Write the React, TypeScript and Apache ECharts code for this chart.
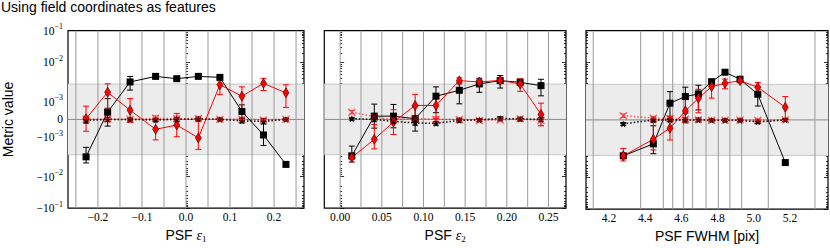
import React, { useEffect, useRef } from 'react';
import * as echarts from 'echarts';

// ---------- data ----------
const titleText = 'Using field coordinates as features';
const yAxisName = 'Metric value';
const bandLimit = 2.8e-3;
const yTickVals = [-0.1, -0.01, -0.001, 0, 0.001, 0.01, 0.1];

// Panel 1 : PSF e1
const e1X = [-0.227, -0.178, -0.127, -0.069, -0.021, 0.028, 0.077, 0.127, 0.176, 0.227];
const e1Sq = [-3.17e-3, 4.1e-4, 3.17e-3, 4.39e-3, 3.84e-3, 4.39e-3, 4.14e-3, 4.5e-4, -8.8e-4, -4.93e-3];
const e1SqErr = [1.35e-3, 7.9e-4, 1.2e-3, 2e-4, 2e-4, 2e-4, 2e-4, 3.7e-4, 7.5e-4, 2e-4];
const e1Dm = [3.9e-5, 1.74e-3, 5.2e-4, -5.6e-4, -3.2e-4, -1.05e-3, 2.71e-3, 1.38e-3, 2.92e-3, 1.68e-3];
const e1DmErr = [7.1e-4, 1.1e-3, 6.8e-4, 6.2e-4, 6.6e-4, 1.0e-3, 1.2e-3, 1.0e-3, 1.0e-3, 1.0e-3];
const e1St = [-5.6e-5, 0, 0, -3e-5, 0, 2e-5, 0, -8e-5, -1.1e-4, 0];
const e1StErr = [1.5e-4, 1.2e-4, 8e-5, 1e-4, 1e-4, 1e-4, 8e-5, 1.2e-4, 1.5e-4, 8e-5];
const e1Xm = [2e-5, 2e-5, 1e-5, 6e-5, 4e-5, 5e-5, 1e-5, 1e-5, -3e-5, 1e-5];
const e1XmErr = [1.2e-4, 1e-4, 8e-5, 1.5e-4, 1.5e-4, 1.2e-4, 8e-5, 8e-5, 1e-4, 8e-5];
const e1Edges = [-0.25, -0.2, -0.15, -0.1, -0.05, 0, 0.05, 0.1, 0.15, 0.2, 0.25];
const e1Ticks = [-0.2, -0.1, 0, 0.1, 0.2];
const e1Range = [-0.268, 0.268];

// Panel 2 : PSF e2
const e2X = [0.014, 0.041, 0.064, 0.09, 0.115, 0.143, 0.167, 0.192, 0.216, 0.241];
const e2Sq = [-2.99e-3, 1.85e-4, 1.85e-4, 3.9e-5, 1.38e-3, 1.95e-3, 2.83e-3, 3.42e-3, 3.1e-3, 2.56e-3];
const e2SqErr = [1.3e-3, 6.8e-4, 6.6e-4, 7e-4, 1.0e-3, 1.07e-3, 1.1e-3, 1.2e-3, 3e-4, 1.15e-3];
const e2Dm = [-3.28e-3, -1.14e-3, -1.5e-4, 7.9e-4, 7.9e-4, 3.42e-3, 3.17e-3, 3.48e-3, 2.83e-3, 2.8e-4];
const e2DmErr = [3e-4, 8.5e-4, 7e-4, 7.5e-4, 7.5e-4, 6e-4, 5e-4, 5e-4, 1.0e-3, 6.4e-4];
const e2St = [3.9e-5, 0, -1.1e-4, -2e-4, -2.25e-4, -5.6e-5, -3e-5, 5.6e-5, 2e-5, 0];
const e2StErr = [8e-5, 1e-4, 1e-4, 1.2e-4, 1e-4, 1e-4, 8e-5, 1e-4, 1e-4, 1e-4];
const e2Xm = [4.1e-4, 1.5e-4, -4e-5, 5.6e-5, 0, 0, -5.6e-5, -3e-5, 3e-5, -5.6e-5];
const e2XmErr = [1e-4, 1e-4, 1e-4, 1e-4, 1.5e-4, 1e-4, 1e-4, 1e-4, 1e-4, 3e-4];
const e2Edges = [0, 0.025, 0.05, 0.075, 0.1, 0.125, 0.15, 0.175, 0.2, 0.225, 0.25];
const e2Ticks = [0, 0.05, 0.1, 0.15, 0.2, 0.25];
const e2Range = [-0.019, 0.271];

// Panel 3 : PSF FWHM
const fwX = [4.279, 4.445, 4.537, 4.622, 4.694, 4.767, 4.841, 4.924, 5.022, 5.174];
const fwSq = [-2.87e-3, -1.43e-3, 9.4e-4, 1.38e-3, 1.61e-3, 3.28e-3, 5.67e-3, 3.77e-3, 1.58e-3, -4.24e-3];
const fwSqErr = [2e-4, 1.1e-3, 9e-4, 1.0e-3, 1.05e-3, 3e-4, 3e-4, 3e-4, 8e-4, 2e-4];
const fwDm = [-2.87e-3, -1.09e-3, -4.66e-4, 5.06e-4, 1.25e-3, 2.46e-3, 2.99e-3, 3.48e-3, 2.37e-3, 7.1e-4];
const fwDmErr = [1.0e-3, 9.5e-4, 6.8e-4, 6.8e-4, 8.5e-4, 1.2e-3, 8.3e-4, 4e-4, 7.5e-4, 6.7e-4];
const fwSt = [-2.25e-4, 0, 0, 0, 0, -2e-5, -2e-5, -2e-5, -1.1e-4, 0];
const fwStErr = [8e-5, 1e-4, 1e-4, 1e-4, 1e-4, 8e-5, 8e-5, 8e-5, 1e-4, 8e-5];
const fwXm = [2.4e-4, 9.6e-5, 7e-5, 3.9e-5, 1e-5, -2e-5, -2e-5, -1e-5, -2e-5, 1e-5];
const fwXmErr = [1e-4, 1e-4, 1.2e-4, 1e-4, 1e-4, 8e-5, 8e-5, 8e-5, 8e-5, 8e-5];
const fwEdges = [4.113, 4.375, 4.5, 4.552, 4.611, 4.662, 4.736, 4.804, 4.868, 4.933, 5.08, 5.338];
const fwTicks = [4.2, 4.4, 4.6, 4.8, 5.0, 5.2];
const fwRange = [4.073, 5.41];

// ---------- symmetric-log axis scale ----------
const S1 = 17.8, S2 = 57.5, S3 = 89.3;
function sym(v: number): number {
  const a = Math.abs(v);
  const s = v < 0 ? -1 : 1;
  let p: number;
  if (a <= 1e-3) p = (a / 1e-3) * S1;
  else if (a <= 1e-2) p = S1 + (S2 - S1) * Math.log10(a / 1e-3);
  else p = S2 + (S3 - S2) * Math.log10(a / 1e-2);
  return s * p;
}
const yMajorPos = yTickVals.map(sym);
const yMinorPos: number[] = [];
for (let k = 2; k <= 9; k++) {
  [k * 1e-3, k * 1e-2].forEach((v) => {
    yMinorPos.push(sym(v));
    yMinorPos.push(sym(-v));
  });
}

const SERIF = 'Liberation Serif';
const SANS = 'Liberation Sans';
const RED = '#ff0000';
const RED_A = 'rgba(255,0,0,0.55)';
const STAR = 'path://M0,-10 L2.35,-3.24 L9.51,-3.09 L3.8,1.24 L5.88,8.09 L0,4 L-5.88,8.09 L-3.8,1.24 L-9.51,-3.09 L-2.35,-3.24 Z';
const XMARK = 'path://M-1,-0.75 L-0.75,-1 L0,-0.25 L0.75,-1 L1,-0.75 L0.25,0 L1,0.75 L0.75,1 L0,0.25 L-0.75,1 L-1,0.75 L-0.25,0 Z';

function fmtX(v: number, d: number) {
  const s = (Math.abs(v) < 1e-12 ? 0 : v).toFixed(d);
  return s.replace('-', '\u2212');
}

function yLabel(val: number) {
  let idx = 0;
  let best = Infinity;
  yMajorPos.forEach((p, i) => {
    if (Math.abs(p - val) < best) { best = Math.abs(p - val); idx = i; }
  });
  const v = yTickVals[idx];
  if (v === 0) return '{b|0}';
  const k = Math.round(Math.log10(Math.abs(v)));
  return `{b|${v < 0 ? '\u2212' : ''}10}{s|\u2212${-k}}`;
}

const App: React.FC = () => {
  const ref = useRef<HTMLDivElement>(null);
  useEffect(() => {
    document.body.style.margin = '0';
    if (!ref.current) return;
    const chart = echarts.init(ref.current, undefined, { renderer: 'svg' });

    const panels = [
      { x: e1X, sq: e1Sq, sqE: e1SqErr, dm: e1Dm, dmE: e1DmErr, st: e1St, stE: e1StErr, xm: e1Xm, xmE: e1XmErr, edges: e1Edges, ticks: e1Ticks, range: e1Range, dec: 1, name: '{a|PSF }{e|\u03b5}{u|1}' },
      { x: e2X, sq: e2Sq, sqE: e2SqErr, dm: e2Dm, dmE: e2DmErr, st: e2St, stE: e2StErr, xm: e2Xm, xmE: e2XmErr, edges: e2Edges, ticks: e2Ticks, range: e2Range, dec: 2, name: '{a|PSF }{e|\u03b5}{u|2}' },
      { x: fwX, sq: fwSq, sqE: fwSqErr, dm: fwDm, dmE: fwDmErr, st: fwSt, stE: fwStErr, xm: fwXm, xmE: fwXmErr, edges: fwEdges, ticks: fwTicks, range: fwRange, dec: 1, name: '{a|PSF FWHM [pix]}' },
    ];
    const grids = [
      { left: 62.7, top: 30.7, width: 241.3, height: 178.6 },
      { left: 324.3, top: 30.7, width: 241.7, height: 178.6 },
      { left: 586, top: 30.7, width: 242, height: 178.6 },
    ];

    const xAxes: any[] = [];
    const yAxes: any[] = [];
    const series: any[] = [];
    const tickStyle = { color: '#000', width: 0.8 };

    panels.forEach((pn, g) => {
      const dec = pn.dec;
      xAxes.push({
        type: 'value', gridIndex: g, position: 'bottom', min: pn.range[0], max: pn.range[1],
        axisLine: { show: false }, splitLine: { show: false },
        axisTick: { inside: true, length: 4, customValues: pn.ticks, lineStyle: tickStyle },
        axisLabel: { customValues: pn.ticks, margin: 3, fontFamily: SERIF, fontSize: 11.5, color: '#000', formatter: (v: number) => fmtX(v, dec) },
        name: pn.name, nameLocation: 'middle', nameGap: 16,
        nameTextStyle: {
          rich: {
            a: { fontFamily: SANS, fontSize: 14, color: '#000' },
            e: { fontFamily: SERIF, fontStyle: 'italic', fontSize: 14, color: '#000' },
            u: { fontFamily: SERIF, fontSize: 9, color: '#000', padding: [7, 0, 0, 0] },
          },
        },
      });
      xAxes.push({
        type: 'value', gridIndex: g, position: 'top', min: pn.range[0], max: pn.range[1],
        axisLine: { show: false }, splitLine: { show: false },
        axisTick: { inside: true, length: 4, customValues: pn.ticks, lineStyle: tickStyle },
        axisLabel: { show: false },
      });
      const yBase: any = { type: 'value', gridIndex: g, min: -S3, max: S3, axisLine: { show: false }, splitLine: { show: false } };
      yAxes.push({
        ...yBase, position: 'left',
        axisTick: { inside: true, length: 4, customValues: yMajorPos, lineStyle: tickStyle },
        axisLabel: g === 0 ? {
          customValues: yMajorPos, margin: 5, formatter: yLabel,
          rich: {
            b: { fontFamily: SERIF, fontSize: 11.5, color: '#000' },
            s: { fontFamily: SERIF, fontSize: 8, color: '#000', padding: [0, 0, 8, 0] },
          },
        } : { show: false },
        ...(g === 0 ? { name: yAxisName, nameLocation: 'middle', nameGap: 53, nameTextStyle: { fontFamily: SANS, fontSize: 14, color: '#000' } } : {}),
      });
      yAxes.push({ ...yBase, position: 'left', axisTick: { inside: true, length: 2, customValues: yMinorPos, lineStyle: tickStyle }, axisLabel: { show: false } });
      yAxes.push({ ...yBase, position: 'right', axisTick: { inside: true, length: 4, customValues: yMajorPos, lineStyle: tickStyle }, axisLabel: { show: false } });
      yAxes.push({ ...yBase, position: 'right', axisTick: { inside: true, length: 2, customValues: yMinorPos, lineStyle: tickStyle }, axisLabel: { show: false } });

      const xi = 2 * g;
      const yi = 4 * g;
      const mid = (pn.range[0] + pn.range[1]) / 2;

      // background band + zero line
      series.push({
        type: 'custom', xAxisIndex: xi, yAxisIndex: yi, z: 1, silent: true,
        data: [[mid, 0]],
        renderItem: (params: any, api: any) => {
          const cs = params.coordSys;
          const yt = api.coord([mid, sym(bandLimit)])[1];
          const yb = api.coord([mid, sym(-bandLimit)])[1];
          const y0 = api.coord([mid, 0])[1];
          return {
            type: 'group', children: [
              { type: 'rect', shape: { x: cs.x, y: yt, width: cs.width, height: yb - yt }, style: { fill: '#ececec' } },
              { type: 'line', shape: { x1: cs.x, y1: yt, x2: cs.x + cs.width, y2: yt }, style: { stroke: '#c8c8c8', lineWidth: 1 } },
              { type: 'line', shape: { x1: cs.x, y1: yb, x2: cs.x + cs.width, y2: yb }, style: { stroke: '#c8c8c8', lineWidth: 1 } },
              { type: 'line', shape: { x1: cs.x, y1: y0, x2: cs.x + cs.width, y2: y0 }, style: { stroke: '#888', lineWidth: 1 } },
            ],
          };
        },
      });
      // bin edges
      series.push({
        type: 'custom', xAxisIndex: xi, yAxisIndex: yi, z: 1.5, silent: true,
        data: pn.edges.map((e) => [e, 0]),
        renderItem: (params: any, api: any) => {
          const cs = params.coordSys;
          const x = api.coord([api.value(0), 0])[0];
          return { type: 'line', shape: { x1: x, y1: cs.y, x2: x, y2: cs.y + cs.height }, style: { stroke: '#999', lineWidth: 1 } };
        },
      });

      const errSeries = (vals: number[], errs: number[], color: string) => ({
        type: 'custom', xAxisIndex: xi, yAxisIndex: yi, z: 3, silent: true,
        data: pn.x.map((x, i) => [x, sym(vals[i] - errs[i]), sym(vals[i] + errs[i])]),
        encode: { x: 0, y: [1, 2] },
        renderItem: (params: any, api: any) => {
          const a = api.coord([api.value(0), api.value(1)]);
          const b = api.coord([api.value(0), api.value(2)]);
          const w = 3;
          const st = { stroke: color, lineWidth: 1 };
          return {
            type: 'group', children: [
              { type: 'line', shape: { x1: a[0], y1: a[1], x2: b[0], y2: b[1] }, style: st },
              { type: 'line', shape: { x1: a[0] - w, y1: a[1], x2: a[0] + w, y2: a[1] }, style: st },
              { type: 'line', shape: { x1: b[0] - w, y1: b[1], x2: b[0] + w, y2: b[1] }, style: st },
            ],
          };
        },
      });
      const lineSeries = (vals: number[], opts: any) => ({
        type: 'line', xAxisIndex: xi, yAxisIndex: yi, z: 3, silent: true,
        data: pn.x.map((x, i) => [x, sym(vals[i])]),
        ...opts,
      });

      series.push(errSeries(pn.sq, pn.sqE, '#000'));
      series.push(lineSeries(pn.sq, { symbol: 'rect', symbolSize: 7, itemStyle: { color: '#000' }, lineStyle: { color: '#000', width: 1 } }));
      series.push(errSeries(pn.dm, pn.dmE, RED));
      series.push(lineSeries(pn.dm, { symbol: 'diamond', symbolSize: [6, 10], itemStyle: { color: RED, borderColor: '#400', borderWidth: 0.6 }, lineStyle: { color: RED, width: 1 } }));
      series.push(errSeries(pn.st, pn.stE, '#000'));
      series.push(lineSeries(pn.st, { symbol: STAR, symbolSize: 7, itemStyle: { color: '#000' }, lineStyle: { color: '#000', width: 1.5, type: [1.5, 2] } }));
      series.push(errSeries(pn.xm, pn.xmE, RED_A));
      series.push(lineSeries(pn.xm, { symbol: XMARK, symbolSize: 8, itemStyle: { color: RED_A }, lineStyle: { color: 'rgba(255,0,0,0.6)', width: 1.5, type: [1.5, 2] } }));
    });

    chart.setOption({
      animation: false,
      backgroundColor: '#fff',
      title: { text: titleText, left: 1, top: 0, padding: 0, textStyle: { fontFamily: SANS, fontSize: 14, fontWeight: 'normal', color: '#000' } },
      grid: grids.map((g) => ({ ...g, show: true, borderColor: '#000', borderWidth: 1.2, backgroundColor: 'transparent', containLabel: false })),
      xAxis: xAxes,
      yAxis: yAxes,
      series,
    });
    return () => chart.dispose();
  }, []);
  return <div ref={ref} style={{ width: 830, height: 248 }} />;
};

export default App;
